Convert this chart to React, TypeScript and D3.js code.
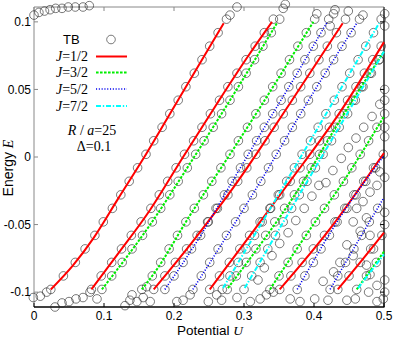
import React from 'react';
import * as d3 from 'd3';

// energy grid of the TB circles that follow each branch
const tbEnergy = [-0.098, -0.088, -0.078, -0.068, -0.058, -0.048, -0.038, -0.028, -0.018, -0.008,
  0.002, 0.012, 0.022, 0.032, 0.042, 0.052, 0.062, 0.072, 0.082, 0.092, 0.102];

// potential U of the TB circles, one value per tbEnergy level
const tbR1 = [0.024, 0.042, 0.059, 0.073, 0.087, 0.099, 0.112, 0.124, 0.136, 0.148, 0.160, 0.171, 0.183, 0.194, 0.206, 0.217, 0.229, 0.240, 0.251, 0.263, 0.275];
const tbR2 = [0.082, 0.096, 0.111, 0.125, 0.139, 0.153, 0.167, 0.179, 0.191, 0.203, 0.215, 0.228, 0.240, 0.252, 0.265, 0.277, 0.290, 0.303, 0.316, 0.329, 0.342];
const tbG1 = [0.097, 0.111, 0.126, 0.140, 0.155, 0.169, 0.181, 0.194, 0.206, 0.219, 0.231, 0.243, 0.256, 0.268, 0.280, 0.292, 0.303, 0.315, 0.327, 0.339, 0.351];
const tbG2 = [0.154, 0.169, 0.181, 0.193, 0.205, 0.217, 0.229, 0.242, 0.254, 0.267, 0.280, 0.292, 0.305, 0.317, 0.329, 0.341, 0.353, 0.365, 0.377, 0.389, 0.401];
const tbR3 = [0.171, 0.187, 0.202, 0.218, 0.233, 0.248, 0.262, 0.277, 0.291, 0.304, 0.317, 0.330, 0.343, 0.356, 0.369, 0.381, 0.394, 0.407, 0.419, 0.432, 0.445];
const tbB1 = [0.187, 0.200, 0.213, 0.225, 0.238, 0.249, 0.260, 0.272, 0.283, 0.295, 0.306, 0.318, 0.329, 0.341, 0.353, 0.364, 0.376, 0.387, 0.399, 0.410, 0.421];
const tbB2 = [0.227, 0.239, 0.251, 0.263, 0.275, 0.288, 0.300, 0.312, 0.324, 0.335, 0.346, 0.358, 0.369, 0.381, 0.392, 0.404, 0.416, 0.428, 0.440, 0.453, 0.465];
const tbR4 = [0.251, 0.265, 0.279, 0.294, 0.308, 0.323, 0.337, 0.351, 0.366, 0.380, 0.394, 0.408, 0.422, 0.436, 0.448, 0.460, 0.472, 0.484, 0.496];
const tbC1 = [0.269, 0.280, 0.292, 0.303, 0.315, 0.326, 0.338, 0.349, 0.361, 0.372, 0.383, 0.395, 0.406, 0.417, 0.429, 0.440, 0.451, 0.463, 0.474, 0.485, 0.496];
const tbG3 = [0.276, 0.289, 0.303, 0.317, 0.331, 0.344, 0.358, 0.372, 0.385, 0.396, 0.408, 0.419, 0.431, 0.443, 0.456, 0.468, 0.480, 0.493];
const tbC2 = [0.300, 0.311, 0.323, 0.334, 0.345, 0.356, 0.368, 0.379, 0.390, 0.402, 0.413, 0.425, 0.436, 0.448, 0.459, 0.470, 0.482, 0.493];
const tbG4 = [0.337, 0.350, 0.363, 0.376, 0.389, 0.402, 0.415, 0.429, 0.442, 0.454, 0.466, 0.478, 0.490];
const tbR5 = [0.351, 0.367, 0.383, 0.399, 0.415, 0.430, 0.444, 0.457, 0.471, 0.485, 0.499];
const tbB3 = [0.376, 0.387, 0.399, 0.410, 0.422, 0.433, 0.447, 0.460, 0.474, 0.488];
const tbB4 = [0.423, 0.434, 0.445, 0.457, 0.468, 0.479, 0.491];
const tbR6 = [0.434, 0.450, 0.466, 0.481, 0.497];
const tbG5 = [0.461, 0.475, 0.489];

// other TB states, [U, E]
const tbBand = [[0.320, -0.091], [0.329, -0.082], [0.340, -0.073], [0.351, -0.064], [0.363, -0.056], [0.374, -0.047],
  [0.386, -0.038], [0.397, -0.029], [0.407, -0.021], [0.417, -0.019], [0.427, -0.010], [0.439, -0.001], [0.449, 0.007],
  [0.460, 0.014], [0.471, 0.022], [0.483, 0.030], [0.494, 0.039]];
const tbTopLeft = [[0.000, 0.105], [0.007, 0.107], [0.015, 0.108], [0.023, 0.109], [0.031, 0.110], [0.040, 0.110],
  [0.049, 0.111], [0.059, 0.111], [0.070, 0.111], [0.079, 0.112]];
const tbTop = [[0.280, 0.105], [0.290, 0.111], [0.356, 0.110], [0.359, 0.113], [0.404, 0.106], [0.428, 0.106],
  [0.430, 0.109], [0.449, 0.108], [0.470, 0.105], [0.423, 0.097]];
const tbBottom = [[-0.001, -0.104], [0.009, -0.103], [0.018, -0.100], [0.030, -0.111], [0.040, -0.108], [0.050, -0.107],
  [0.060, -0.105], [0.070, -0.104], [0.080, -0.100], [0.090, -0.105], [0.130, -0.110], [0.137, -0.106], [0.140, -0.102],
  [0.147, -0.107], [0.156, -0.104], [0.161, -0.096], [0.166, -0.107], [0.204, -0.107], [0.213, -0.106], [0.223, -0.102],
  [0.249, -0.107], [0.261, -0.102], [0.268, -0.106], [0.290, -0.104], [0.309, -0.107], [0.323, -0.105], [0.332, -0.102],
  [0.342, -0.100], [0.366, -0.105], [0.380, -0.107], [0.401, -0.105], [0.420, -0.106], [0.447, -0.106], [0.459, -0.105],
  [0.478, -0.100], [0.490, -0.107], [0.499, -0.105]];
const tbRight = [[0.501, 0.106], [0.501, 0.097], [0.501, 0.050], [0.501, 0.042], [0.501, 0.032], [0.501, 0.022],
  [0.501, 0.015], [0.501, -0.015], [0.501, -0.041], [0.501, -0.050], [0.501, -0.091], [0.501, -0.100]];
const tbCloud = [[0.456, -0.048], [0.466, -0.055], [0.475, -0.045], [0.480, -0.058], [0.485, -0.068], [0.475, -0.080],
  [0.480, -0.087], [0.490, -0.095], [0.456, -0.073], [0.447, -0.065], [0.437, -0.078], [0.428, -0.085], [0.413, -0.092],
  [0.490, -0.021], [0.494, -0.011], [0.480, -0.026], [0.470, -0.033], [0.461, -0.038]];

// analytic branches, [U, E]
const r1 = [[0.024, -0.098], [0.056, -0.080], [0.085, -0.060], [0.120, -0.031], [0.160, 0.002], [0.200, 0.037], [0.240, 0.072], [0.271, 0.099]];
const r2 = [[0.082, -0.098], [0.118, -0.073], [0.166, -0.039], [0.213, 0.000], [0.262, 0.040], [0.305, 0.074], [0.340, 0.100]];
const r3 = [[0.171, -0.098], [0.223, -0.065], [0.287, -0.021], [0.366, 0.040], [0.441, 0.099]];
const r4 = [[0.251, -0.098], [0.316, -0.053], [0.360, -0.022], [0.437, 0.033], [0.500, 0.085]];
const r5 = [[0.351, -0.098], [0.423, -0.053], [0.500, 0.003]];
const r6 = [[0.434, -0.098], [0.466, -0.078], [0.500, -0.056]];
const g1 = [[0.097, -0.098], [0.166, -0.050], [0.230, 0.001], [0.280, 0.042], [0.347, 0.099]];
const g2 = [[0.154, -0.098], [0.173, -0.085], [0.223, -0.043], [0.280, 0.002], [0.327, 0.040], [0.399, 0.100]];
const g3 = [[0.277, -0.097], [0.380, -0.022], [0.437, 0.027], [0.500, 0.078]];
const g4 = [[0.337, -0.098], [0.399, -0.050], [0.437, -0.022], [0.500, 0.030]];
const g5 = [[0.461, -0.098], [0.500, -0.070]];
const b1 = [[0.187, -0.098], [0.237, -0.059], [0.280, -0.021], [0.327, 0.020], [0.376, 0.062], [0.419, 0.100]];
const b2 = [[0.227, -0.098], [0.319, -0.022], [0.390, 0.040], [0.461, 0.099]];
const b3 = [[0.376, -0.098], [0.433, -0.048], [0.500, 0.001]];
const b4 = [[0.423, -0.098], [0.461, -0.064], [0.500, -0.030]];
const c1 = [[0.270, -0.097], [0.356, -0.022], [0.423, 0.037], [0.493, 0.099]];
const c2 = [[0.301, -0.097], [0.404, -0.006], [0.500, 0.078]];
const c3 = [[0.463, -0.097], [0.500, -0.072]];

const xTicks = [0, 0.1, 0.2, 0.3, 0.4, 0.5];
const xTickLabels = ['0', '0.1', '0.2', '0.3', '0.4', '0.5'];
const yTicks = [-0.1, -0.05, 0, 0.05, 0.1];
const yTickLabels = ['-0.1', '-0.05', '0', '0.05', '0.1'];
const legendJ = ['1/2', '3/2', '5/2', '7/2'];

const SANS = 'Liberation Sans, Arial, sans-serif';
const SERIF = 'Liberation Serif, Times New Roman, serif';

const series = [
  { name: '1/2', color: '#ff0000', dash: undefined, width: 2, branches: [r1, r2, r3, r4, r5, r6] },
  { name: '3/2', color: '#00ee00', dash: '2.6,1.4', width: 2, branches: [g1, g2, g3, g4, g5] },
  { name: '7/2', color: '#00ffff', dash: '5,1.8,1.4,1.8', width: 2, branches: [c1, c2, c3] },
  { name: '5/2', color: '#0000ee', dash: '1.1,1.7', width: 1.6, branches: [b1, b2, b3, b4] },
];

const App = () => {
  const x = d3.scaleLinear().domain([0, 0.5]).range([34, 384]);
  const y = d3.scaleLinear().domain([-0.111, 0.111]).range([307, 7]);
  const line = d3.line<number[]>().x((d) => x(d[0])).y((d) => y(d[1])).curve(d3.curveMonotoneX);

  const tbBranches = [tbR1, tbR2, tbG1, tbG2, tbR3, tbB1, tbB2, tbR4, tbC1, tbG3, tbC2, tbG4, tbR5, tbB3, tbB4, tbR6, tbG5];
  const tbPoints = [
    ...tbBranches.flatMap((arr) => arr.map((u, i) => [u, tbEnergy[i]])),
    ...tbBand, ...tbTopLeft, ...tbTop, ...tbBottom, ...tbRight, ...tbCloud,
  ];

  const legendStyle = (name) => series.find((s) => s.name === name);
  const rowY = [56.5, 72.5, 89, 106];

  return (
    <svg width={395} height={340} style={{ position: 'absolute', left: 0, top: 0, background: '#fff' }}>
      {/* frame */}
      <line x1={34} y1={7} x2={384} y2={7} stroke="#888" strokeWidth={1} />
      <line x1={34} y1={7} x2={34} y2={307} stroke="#888" strokeWidth={1} />
      <line x1={34} y1={307} x2={384.5} y2={307} stroke="#000" strokeWidth={1.3} />
      <line x1={384} y1={7} x2={384} y2={307} stroke="#000" strokeWidth={1.3} />

      {xTicks.map((t, i) => (
        <g key={'x' + i}>
          <line x1={x(t)} x2={x(t)} y1={7} y2={11} stroke="#888" />
          <line x1={x(t)} x2={x(t)} y1={307} y2={303} stroke="#000" />
          <text x={x(t)} y={319.5} textAnchor="middle" fontFamily={SANS} fontSize={12}>{xTickLabels[i]}</text>
        </g>
      ))}
      {yTicks.map((t, i) => (
        <g key={'y' + i}>
          <line x1={34} x2={38} y1={y(t)} y2={y(t)} stroke="#888" />
          <line x1={384} x2={380} y1={y(t)} y2={y(t)} stroke="#000" />
          <text x={31} y={y(t)} dy="0.35em" textAnchor="end" fontFamily={SANS} fontSize={12}>{yTickLabels[i]}</text>
        </g>
      ))}

      {/* TB circles */}
      <g fill="none" stroke="#222" strokeOpacity={0.75} strokeWidth={0.8}>
        {tbPoints.map((d, i) => (
          <circle key={i} cx={x(d[0])} cy={y(d[1])} r={4.3} />
        ))}
      </g>

      {/* analytic branches */}
      {series.map((s) =>
        s.branches.map((b, i) => (
          <path key={s.name + i} d={line(b)} fill="none" stroke={s.color} strokeWidth={s.width}
            strokeDasharray={s.dash} />
        ))
      )}

      {/* legend */}
      <text x={63} y={44} fontFamily={SANS} fontSize={13}>TB</text>
      <circle cx={111} cy={39.5} r={4.3} fill="none" stroke="#222" strokeOpacity={0.75} strokeWidth={0.8} />
      {legendJ.map((name, i) => {
        const s = legendStyle(name);
        return (
          <g key={name}>
            <text x={88} y={rowY[i] + 4.5} textAnchor="end" fontFamily={SERIF} fontSize={14}>
              <tspan fontStyle="italic">J</tspan>={name}
            </text>
            <line x1={96} x2={127} y1={rowY[i]} y2={rowY[i]} stroke={s.color} strokeWidth={s.width}
              strokeDasharray={s.dash} />
          </g>
        );
      })}
      <text x={92} y={135} textAnchor="middle" fontFamily={SERIF} fontSize={14}>
        <tspan fontStyle="italic">R</tspan> / <tspan fontStyle="italic">a</tspan>=25
      </text>
      <text x={94} y={151} textAnchor="middle" fontFamily={SERIF} fontSize={14}>Δ=0.1</text>

      {/* axis titles */}
      <text x={210} y={335} textAnchor="middle" fontFamily={SANS} fontSize={13.5}>
        Potential <tspan fontFamily={SERIF} fontStyle="italic">U</tspan>
      </text>
      <text transform="translate(13,168) rotate(-90)" textAnchor="middle" fontFamily={SANS} fontSize={14}>
        Energy <tspan fontFamily={SERIF} fontStyle="italic">E</tspan>
      </text>
    </svg>
  );
};

export default App;
